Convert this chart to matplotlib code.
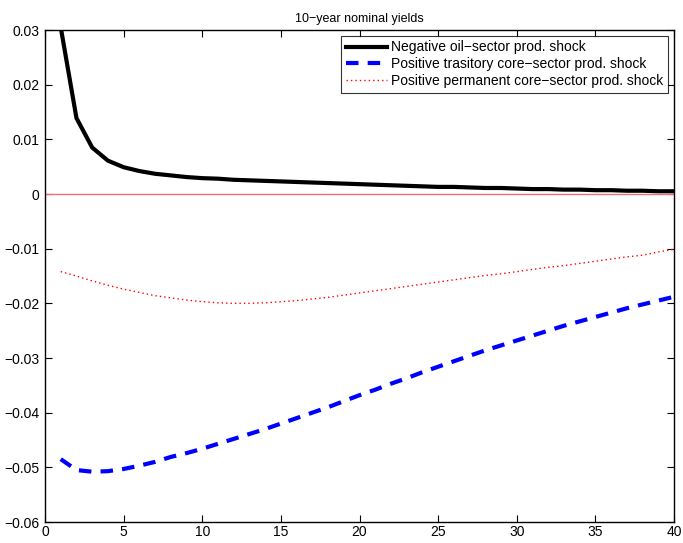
import matplotlib
matplotlib.use("Agg")
import matplotlib.pyplot as plt
import numpy as np

plt.rcParams['font.family'] = ['Liberation Sans', 'DejaVu Sans']

periods = list(range(1, 41))
oil_neg = [0.0305, 0.0139, 0.0085, 0.0061, 0.0049, 0.0042, 0.0037, 0.0034, 0.0031, 0.0029,
           0.0028, 0.0026, 0.0025, 0.0024, 0.0023, 0.0022, 0.0021, 0.0020, 0.0019, 0.0018,
           0.0017, 0.0016, 0.0015, 0.0014, 0.0013, 0.0013, 0.0012, 0.0011, 0.0011, 0.0010,
           0.0009, 0.0009, 0.0008, 0.0008, 0.0007, 0.0007, 0.0006, 0.0006, 0.0005, 0.0005]
core_trans = [-0.0485, -0.0505, -0.0508, -0.0507, -0.0503, -0.0497, -0.0490, -0.0481, -0.0474, -0.0466,
              -0.0457, -0.0448, -0.0439, -0.0430, -0.0420, -0.0410, -0.0400, -0.0390, -0.0379, -0.0368,
              -0.0358, -0.0347, -0.0337, -0.0326, -0.0316, -0.0306, -0.0296, -0.0286, -0.0277, -0.0268,
              -0.0259, -0.0250, -0.0241, -0.0233, -0.0225, -0.0217, -0.0209, -0.0202, -0.0195, -0.0188]
core_perm = [-0.0142, -0.0150, -0.0159, -0.0167, -0.0174, -0.0180, -0.0186, -0.0190, -0.0194, -0.0197,
             -0.0199, -0.0200, -0.0200, -0.0199, -0.0197, -0.0195, -0.0192, -0.0189, -0.0185, -0.0181,
             -0.0177, -0.0173, -0.0169, -0.0165, -0.0161, -0.0157, -0.0153, -0.0149, -0.0146, -0.0142,
             -0.0138, -0.0134, -0.0131, -0.0127, -0.0123, -0.0119, -0.0115, -0.0112, -0.0106, -0.0101]
labels = ["Negative oil\u2212sector prod. shock",
          "Positive trasitory core\u2212sector prod. shock",
          "Positive permanent core\u2212sector prod. shock"]
title = "10\u2212year nominal yields"
xticks = [0, 5, 10, 15, 20, 25, 30, 35, 40]
yticks = [-0.06, -0.05, -0.04, -0.03, -0.02, -0.01, 0, 0.01, 0.02, 0.03]

fig = plt.figure(figsize=(6.83, 5.43), dpi=100)
ax = fig.add_axes([45/683, 1-522/543, (674-45)/683, (522-30)/543])

ax.plot(periods, oil_neg, color='black', lw=3, label=labels[0])
ax.plot(periods, core_trans, color='blue', lw=3, ls=(0, (3, 2.2)), label=labels[1])
ax.plot(periods, core_perm, color='red', lw=1, ls=(0, (1, 2.2)), label=labels[2])
ax.axhline(0, color='#f07070', lw=1)

ax.set_xlim(0, 40)
ax.set_ylim(-0.06, 0.03)
ax.set_xticks(xticks)
ax.set_yticks(yticks)
ax.set_yticklabels(['\u22120.06', '\u22120.05', '\u22120.04', '\u22120.03', '\u22120.02', '\u22120.01',
                    '0', '0.01', '0.02', '0.03'])
ax.tick_params(direction='in', top=True, right=True, labelsize=10, length=5, width=0.8, pad=4)
ax.tick_params(axis='x', pad=2)
for s in ax.spines.values():
    s.set_linewidth(1)
ax.set_title(title, fontsize=9, pad=6)
leg = ax.legend(loc='upper right', fontsize=10, frameon=True, fancybox=False,
                edgecolor='black', borderpad=0.35, labelspacing=0.2, handlelength=3.0,
                handletextpad=0.3, borderaxespad=0.4)
leg.get_frame().set_linewidth(0.8)

fig.savefig('out.png', dpi=100)
